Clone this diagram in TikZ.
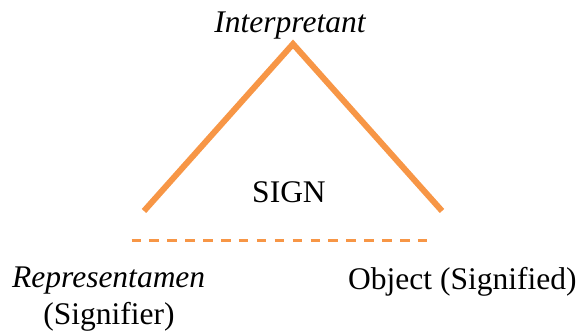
\documentclass[tikz,border=0pt]{standalone}
\usepackage{fontspec}
\setmainfont{Liberation Serif}
\definecolor{signorange}{HTML}{F79646}
\begin{document}
\begin{tikzpicture}[x=1pt,y=-1pt,
  lbl/.style={inner sep=0pt,font=\fontsize{31.5}{34}\selectfont},
  side/.style={draw=signorange,line width=6pt,line cap=butt,line join=miter},
  base/.style={draw=signorange,line width=3pt,dash pattern=on 9.5pt off 8.4pt}]
\useasboundingbox (0,0) rectangle (582,336);
\coordinate (apex) at (293,44);
\coordinate (left) at (144,211);
\coordinate (right) at (442,211);
\coordinate (bl) at (131.5,241);
\coordinate (br) at (428,241);
\draw[side] (left) -- (apex) -- (right);
\draw[base] (bl) -- (br);
\node[lbl,anchor=base] (interp) at (290,33) {\itshape Interpretant};
\node[lbl,anchor=base] (sign) at (289,203) {SIGN};
\node[lbl,anchor=base west] (repr) at (12,288) {\itshape Representamen};
\node[lbl,anchor=base] (signifier) at (109,325) {(Signifier)};
\node[lbl,anchor=base west] (obj) at (348,290) {Object (Signified)};
\end{tikzpicture}
\end{document}
